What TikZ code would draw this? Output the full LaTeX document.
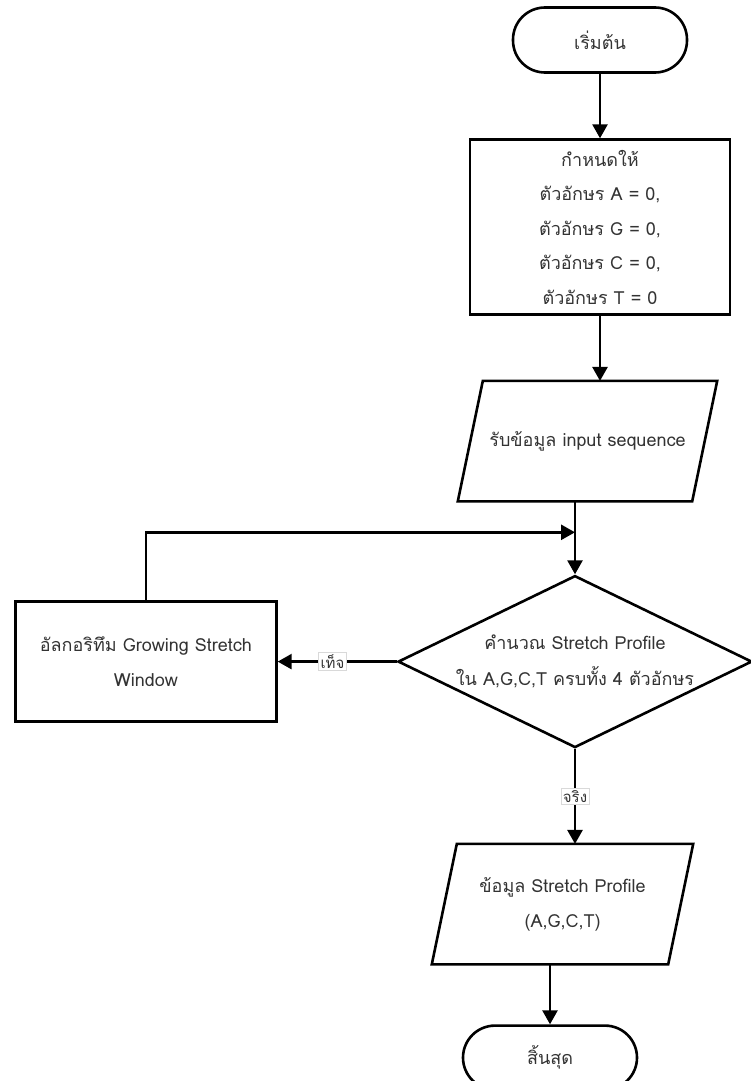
\documentclass[tikz,border=0pt]{standalone}
\usepackage{fontspec}
\setmainfont[Script=Thai]{Loma}
\usepackage{tikz}
\usetikzlibrary{shapes.geometric, arrows.meta, positioning}
\tikzset{
	startstop/.style={
		rectangle,
		rounded corners=32pt,
		minimum width=174pt,
		minimum height=65pt,
		text centered,
		draw=black,
		line width=2.6pt,
		text=black!80,
		font=\fontsize{18}{34.5}\selectfont
	},
	process/.style={
		rectangle,
		minimum width=260pt,
		minimum height=120pt,
		text centered,
		align=center,
		draw=black,
		line width=2.6pt,
		text=black!80,
		font=\fontsize{18}{34.5}\selectfont
	},
	io/.style={
		rectangle,
		minimum width=259pt,
		minimum height=120pt,
		text centered,
		align=center,
		text=black!80,
		font=\fontsize{18}{35}\selectfont
	},
	ioborder/.style={line width=2.6pt, line join=miter},
	decision/.style={
		diamond,
		aspect=2.06,
		minimum width=354pt,
		minimum height=172pt,
		inner sep=0pt,
		text centered,
		align=center,
		draw=black,
		line width=2.6pt,
		text=black!80,
		font=\fontsize{18}{36}\selectfont
	},
	edgelabel/.style={
		fill=white,
		draw=black!15,
		line width=0.4pt,
		inner sep=2pt,
		text=black!80,
		font=\fontsize{15}{17}\selectfont
	},
	arrow/.style={line width=2.6pt,->,>={Triangle[length=14pt,width=15pt]}}
}

\begin{document}
\begin{tikzpicture}
				\useasboundingbox (0pt,0pt) rectangle (751pt,-1081pt);
				\node (start) [startstop] at (600pt,-40pt) {เริ่มต้น};
				\node (init) [process, minimum height=175pt, below=64.5pt of start] {กำหนดให้\\ตัวอักษร A = 0,\\ตัวอักษร G = 0,\\ตัวอักษร C = 0,\\ตัวอักษร T = 0};
				\node (input) [io, below=65pt of init, xshift=-12.5pt] {รับข้อมูล input sequence};
				\node (calc) [decision, below=73pt of input, xshift=-12.5pt] {คำนวณ Stretch Profile\\ใน A,G,C,T ครบทั้ง 4 ตัวอักษร};
				\node (grow) [process, minimum width=261pt, left=119pt of calc] {อัลกอริทึม Growing Stretch\\Window};
				\node (result) [io, minimum width=261pt, below=95pt of calc, xshift=-12.5pt] {ข้อมูล Stretch Profile\\(A,G,C,T)};
				\node (stop) [startstop, minimum height=64pt, below=60pt of result, xshift=-12.5pt] {สิ้นสุด};
				\coordinate [above=42pt of calc.north] (merge);
				
				% parallelogram outlines of the data nodes
				\foreach \io in {input, result}
					\draw [ioborder] ([xshift=25pt]\io.north west) -- (\io.north east) -- ([xshift=-25pt]\io.south east) -- (\io.south west) -- cycle;
				
				\draw [arrow] (start) -- (init);
				\draw [arrow] (init) -- ([xshift=12.5pt]input.north);
				\draw [arrow] ([xshift=-12.5pt]input.south) -- (calc);
				\draw [arrow] (grow.north) |- (merge);
				\draw [arrow] (calc) -- node [edgelabel, pos=0.54] {เท็จ} (grow);
				\draw [arrow] (calc) -- node [edgelabel] {จริง} ([xshift=12.5pt]result.north);
				\draw [arrow] ([xshift=-12.5pt]result.south) -- (stop);
			\end{tikzpicture}
\end{document}
